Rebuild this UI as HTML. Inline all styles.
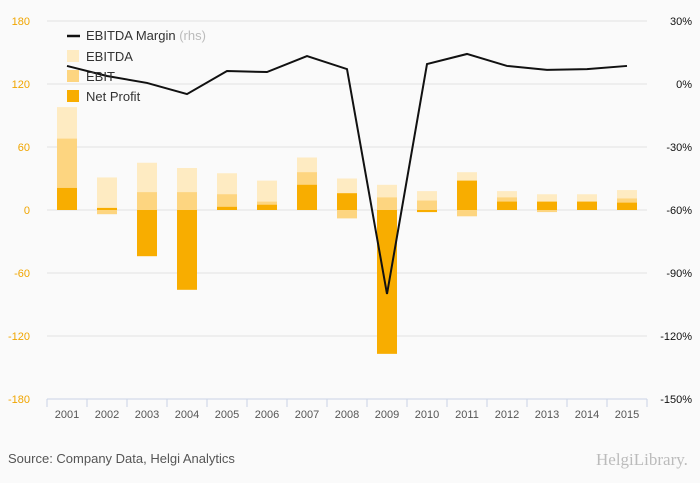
<!DOCTYPE html>
<html><head><meta charset="utf-8"><style>
html,body{margin:0;padding:0;background:#fafafa;width:700px;height:483px;overflow:hidden;font-family:"Liberation Sans",sans-serif}
</style></head><body>
<svg width="700" height="483" xmlns="http://www.w3.org/2000/svg">
<g id="grid"></g><g id="bars"></g><g id="line"></g><g id="axes"></g>
<g font-size="13" fill="#333">
<line x1="67" y1="36" x2="80" y2="36" stroke="#111" stroke-width="2.5"/>
<text x="86" y="40">EBITDA Margin <tspan fill="#bbb">(rhs)</tspan></text>
<rect x="67" y="50" width="12" height="12" fill="#feebc2"/>
<text x="86" y="61">EBITDA</text>
<rect x="67" y="70" width="12" height="12" fill="#fdd580"/>
<text x="86" y="81">EBIT</text>
<rect x="67" y="90" width="12" height="12" fill="#f8ad00"/>
<text x="86" y="101">Net Profit</text>
</g>
<text x="8" y="463" font-size="13" fill="#555">Source: Company Data, Helgi Analytics</text>
<text x="596" y="465" font-size="17" fill="#bbb" font-family="Liberation Serif,serif">HelgiLibrary.</text>
</svg>
<script>
const years=["2001","2002","2003","2004","2005","2006","2007","2008","2009","2010","2011","2012","2013","2014","2015"];
const ebitda=[98,31,45,40,35,28,50,30,24,18,36,18,15,15,19];
const ebit=[68,-4,17,17,15,8,36,-8,12,9,-6,12,-2,8,11];
const netProfit=[21,2,-44,-76,3,5,24,16,-137,-2,28,8,8,8,7];
const margin=[8.6,3.8,0.5,-4.8,6.2,5.7,13.3,7.1,-100,9.5,14.3,8.6,6.7,7.1,8.6];
const leftTicks=[180,120,60,0,-60,-120,-180];
const rightTicks=[30,0,-30,-60,-90,-120,-150];
const NS="http://www.w3.org/2000/svg";
const X0=47,X1=647,Y0=21,Y1=399;
const bw=(X1-X0)/years.length;
const xc=i=>X0+bw*(i+0.5);
const yL=v=>Y0+(180-v)/360*(Y1-Y0);
const yR=v=>Y0+(30-v)/180*(Y1-Y0);
function mk(t,a,p){const e=document.createElementNS(NS,t);for(const k in a)e.setAttribute(k,a[k]);p.appendChild(e);return e;}
const grid=document.getElementById('grid'),bars=document.getElementById('bars'),axes=document.getElementById('axes'),lineG=document.getElementById('line');
leftTicks.forEach(v=>{
 if(v!==-180){const g=mk('line',{x1:X0,x2:X1,y1:yL(v),y2:yL(v),stroke:'#e2e2e2','stroke-width':1},grid);
 
 }
 const t=mk('text',{x:30,y:yL(v)+4,'text-anchor':'end','font-size':11,fill:'#f0a500'},axes);t.textContent=v;
 
 
});
rightTicks.forEach(v=>{
 const t=mk('text',{x:692,y:yR(v)+4,'text-anchor':'end','font-size':11,fill:'#111'},axes);t.textContent=v+'%';
 
 
});
const bar=(i,v,c,n)=>{const y=Math.min(yL(0),yL(v)),h=Math.abs(yL(v)-yL(0));
 const r=mk('rect',{x:xc(i)-10,y:y,width:20,height:h,fill:c},bars);
 
 };
years.forEach((yr,i)=>{
 bar(i,ebitda[i],'#feebc2','bar-ebitda-'+yr);
 bar(i,ebit[i],'#fdd580','bar-ebit-'+yr);
 bar(i,netProfit[i],'#f8ad00','bar-net-profit-'+yr);
 const t=mk('text',{x:xc(i),y:418,'text-anchor':'middle','font-size':11,fill:'#555'},axes);t.textContent=yr;
 
 
});
const ax=mk('line',{x1:X0,x2:X1,y1:Y1,y2:Y1,stroke:'#c9d3e6'},axes);


for(let i=0;i<=years.length;i++){const tk=mk('line',{x1:X0+bw*i,x2:X0+bw*i,y1:Y1,y2:Y1+8,stroke:'#c9d3e6'},axes);
 
 }
const pl=mk('polyline',{points:margin.map((m,i)=>xc(i)+','+yR(m)).join(' '),fill:'none',stroke:'#111','stroke-width':2},lineG);


</script>
</body></html>
